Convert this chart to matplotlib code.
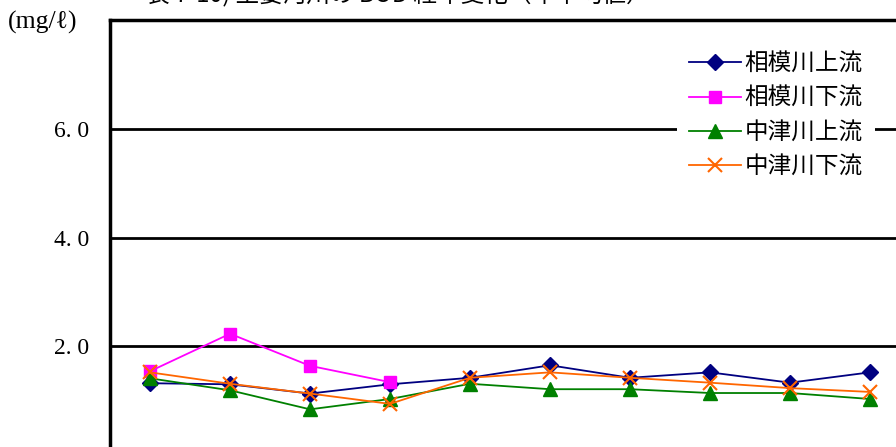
import matplotlib
matplotlib.use("Agg")
import matplotlib.pyplot as plt
import numpy as np

# data
years = ["1", "2", "3", "4", "5", "6", "7", "8", "9", "10"]
sagami_up = [1.32, 1.3, 1.13, 1.3, 1.42, 1.65, 1.42, 1.52, 1.33, 1.52]
sagami_down = [1.54, 2.23, 1.64, 1.34, np.nan, np.nan, np.nan, np.nan, np.nan, np.nan]
nakatsu_up = [1.41, 1.19, 0.84, 1.03, 1.31, 1.21, 1.21, 1.14, 1.14, 1.03]
nakatsu_down = [1.52, 1.31, 1.13, 0.94, 1.42, 1.52, 1.42, 1.33, 1.23, 1.16]
series_names = ["相模川上流", "相模川下流", "中津川上流", "中津川下流"]
yticks = [2.0, 4.0, 6.0]
ytick_labels = ["2. 0", "4. 0", "6. 0"]

SERIF = ["Liberation Serif", "DejaVu Serif"]
GOTHIC = ["Noto Sans CJK JP", "DejaVu Sans"]

W, H = 896, 447
fig = plt.figure(figsize=(W / 100, H / 100), dpi=100)
ax = fig.add_axes([110 / W, (H - 455) / H, 800 / W, 435 / H])

x = np.arange(len(years)) + 0.5
styles = [
    dict(color="#000080", marker="D", ms=8),
    dict(color="#FF00FF", marker="s", ms=8.5),
    dict(color="#008000", marker="^", ms=9.5),
    dict(color="#FF6600", marker="x", ms=10, mew=1.5),
]
for vals, name, st in zip([sagami_up, sagami_down, nakatsu_up, nakatsu_down], series_names, styles):
    ax.plot(x, vals, lw=1.3, label=name, zorder=3, **st)

ax.set_xlim(0, len(years))
ax.set_ylim(0, 8)
ax.set_yticks(yticks)
ax.set_yticklabels(ytick_labels, family=SERIF, fontsize=17)
ax.tick_params(axis="y", length=0, pad=15)
ax.set_xticks(x)
ax.set_xticklabels(years)
ax.tick_params(axis="x", length=0, labelbottom=False)
for yv in yticks:
    ax.axhline(yv, color="black", lw=2, zorder=1)
for s in ["left", "top"]:
    ax.spines[s].set_linewidth(2.5)
ax.spines["right"].set_visible(False)
ax.spines["bottom"].set_visible(False)

fig.text(8 / W, 1 - 22 / H, "(mg/ℓ)", family=SERIF,
         fontsize=18.5, va="center", ha="left")
fig.text(146 / W, 1 + 6 / H, "表 7-10) 主要河川の BOD 経年変化（年平均値）",
         family=GOTHIC, fontsize=17, va="center", ha="left")

leg = ax.legend(loc="upper left", bbox_to_anchor=(665 / W, 1 - 29 / H),
                bbox_transform=fig.transFigure, prop={"family": GOTHIC, "size": 17},
                frameon=True, fancybox=False, facecolor="white", edgecolor="none", framealpha=1,
                handlelength=2.2, handletextpad=0.17, labelspacing=0.48, borderpad=0.5)
leg.set_zorder(5)

fig.savefig("out.png", dpi=100)
